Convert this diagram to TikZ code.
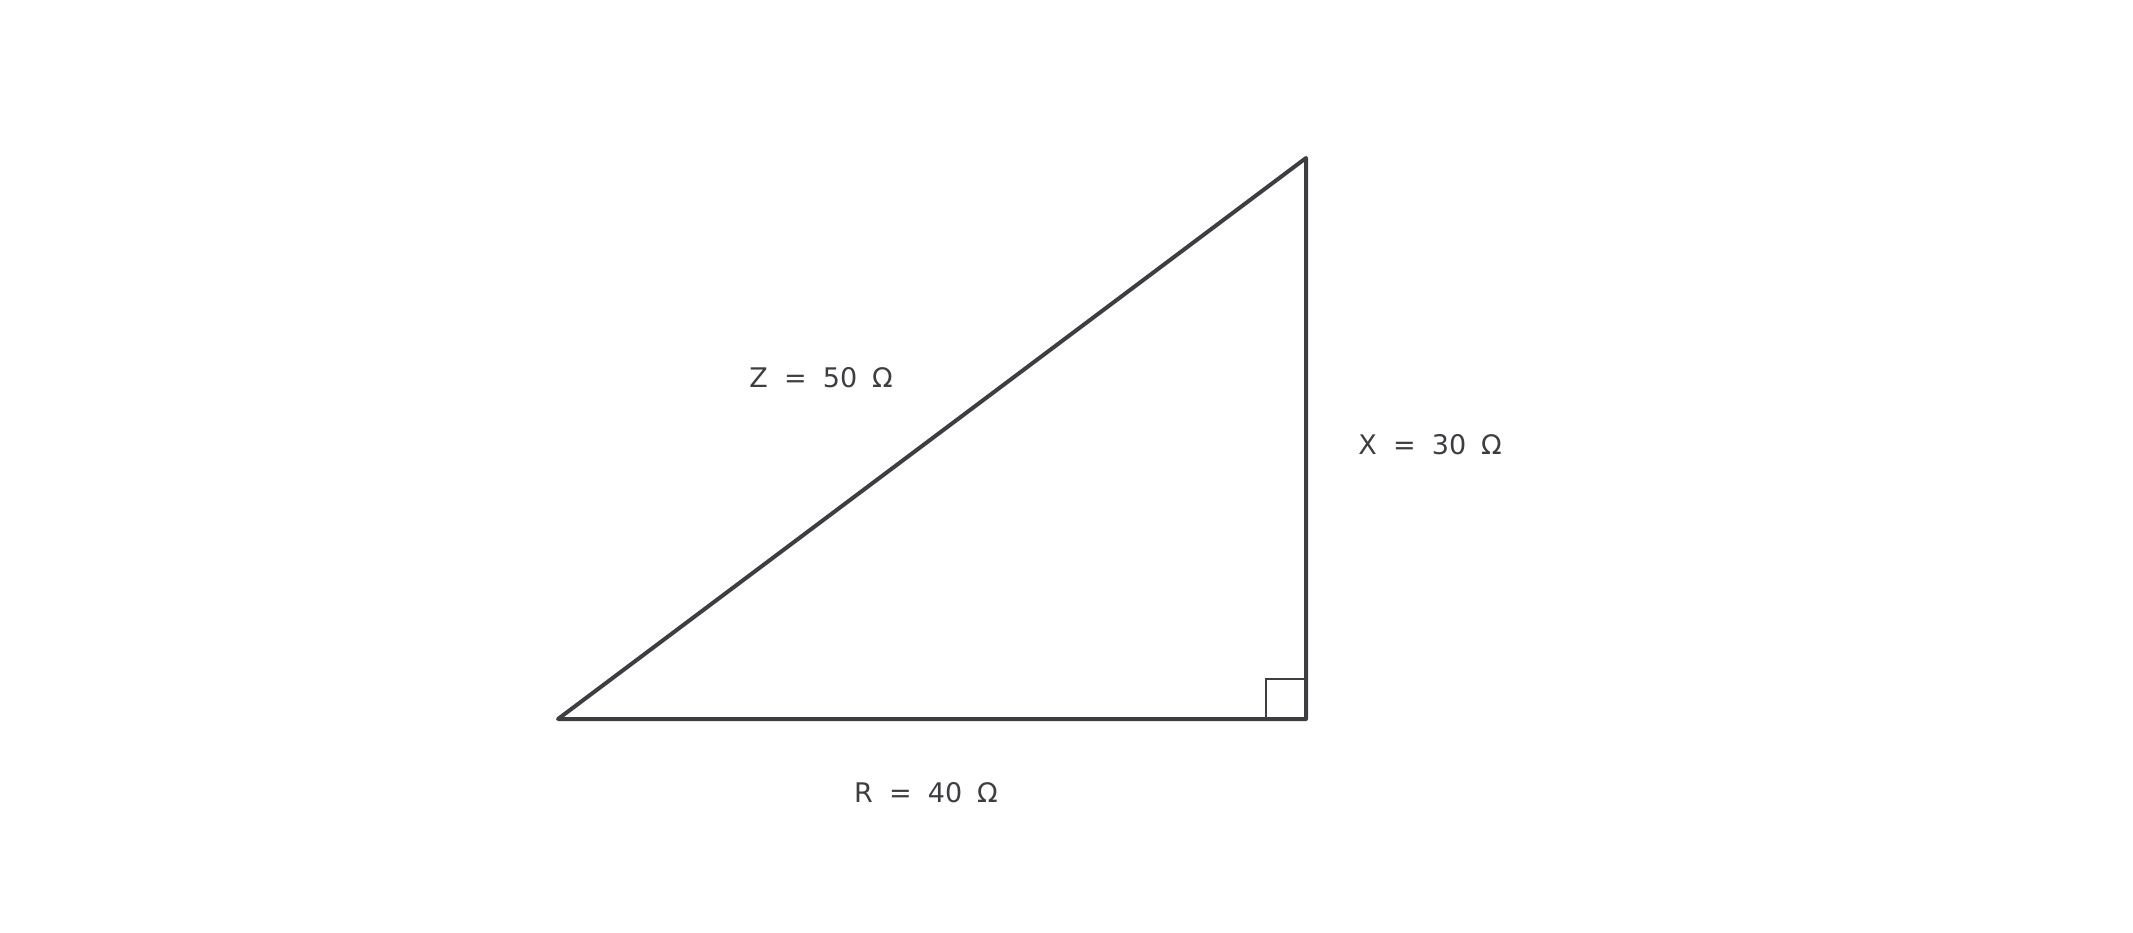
\documentclass[tikz,border=0pt]{standalone}
\usepackage{fontspec}
\setmainfont{DejaVu Sans}
\definecolor{ink}{RGB}{62,62,66}
\begin{document}
\begin{tikzpicture}[x=1pt,y=-1pt,
  side/.style={draw=ink,line width=4pt,line join=round,line cap=round},
  rightmark/.style={draw=ink,line width=2.2pt},
  lbl/.style={text=ink,font=\fontsize{27}{32}\selectfont,inner sep=0pt,anchor=center}]
\useasboundingbox (0,0) rectangle (2133,933);
\coordinate (A) at (558,719);
\coordinate (B) at (1306,719);
\coordinate (C) at (1306,158);
\coordinate (S1) at (1266,719);
\coordinate (S2) at (1266,679);
\coordinate (S3) at (1306,679);
\draw[rightmark] (S1) -- (S2) -- (S3);
\draw[side] (A) -- (B) -- (C) -- cycle;
\node[lbl] (z) at (821,378) {Z\hspace{0.6em}=\hspace{0.6em}50\hspace{0.55em}Ω};
\node[lbl] (x) at (1430,445) {X\hspace{0.6em}=\hspace{0.6em}30\hspace{0.55em}Ω};
\node[lbl] (r) at (926,793) {R\hspace{0.6em}=\hspace{0.6em}40\hspace{0.55em}Ω};
\end{tikzpicture}
\end{document}
